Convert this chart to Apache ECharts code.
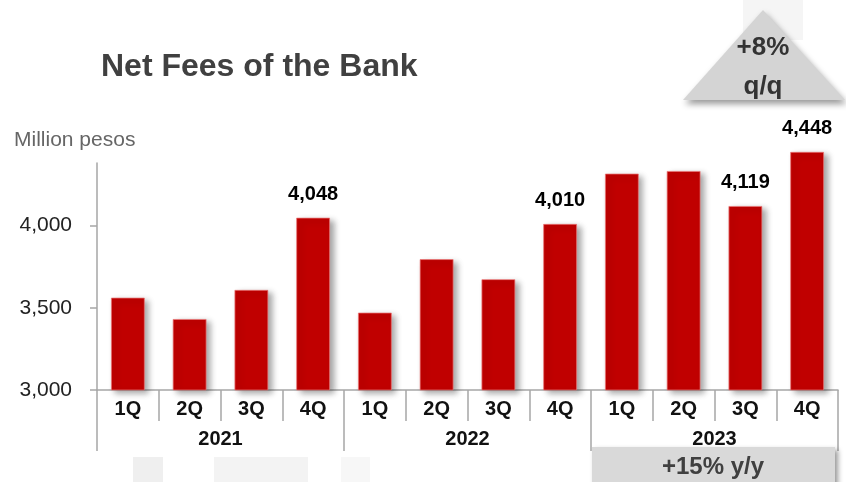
<!DOCTYPE html>
<html>
<head>
<meta charset="utf-8">
<script src="https://cdn.jsdelivr.net/npm/echarts@6/dist/echarts.min.js"></script>
<style>
  html, body { margin: 0; padding: 0; background: #ffffff; }
  #chart { width: 846px; height: 482px; }
</style>
</head>
<body>
<div id="chart"></div>
<script>
// Quarterly net fees, million pesos
const quarters = ['1Q', '2Q', '3Q', '4Q', '1Q', '2Q', '3Q', '4Q', '1Q', '2Q', '3Q', '4Q'];
const years = ['2021', '2022', '2023'];
const netFees = [3562, 3432, 3609, 4048, 3471, 3796, 3674, 4010, 4316, 4332, 4119, 4448];
// Bars that carry a value label
const labelled = [false, false, false, true, false, false, false, true, false, false, true, true];
const yTicks = [3000, 3500, 4000];

const FONT = '"Liberation Sans", Arial, sans-serif';
const chart = echarts.init(document.getElementById('chart'), null, { renderer: 'canvas' });

// Shared vertical scale: the drawn axis stops at 4,380 while the bar plot
// keeps room up to 4,500 so the tallest bar can rise above the axis end.
const BOTTOM = 92;
const AXIS_TOP = 163;
const AXIS_MIN = 3000, AXIS_MAX = 4380, PLOT_MAX = 4500;
const pxPerUnit = (482 - BOTTOM - AXIS_TOP) / (AXIS_MAX - AXIS_MIN);
const PLOT_TOP = 482 - BOTTOM - (PLOT_MAX - AXIS_MIN) * pxPerUnit;

const barData = netFees.map((v, i) => ({
  value: v,
  label: { show: labelled[i] }
}));

const axisGrey = { color: '#a6a6a6', width: 1.5 };

chart.setOption({
  animation: false,
  backgroundColor: '#ffffff',
  grid: [
    { left: 97, right: 8, top: PLOT_TOP, bottom: BOTTOM, containLabel: false },
    { left: 97, right: 8, top: AXIS_TOP, bottom: BOTTOM, containLabel: false }
  ],
  xAxis: [
    {
      gridIndex: 0,
      type: 'category',
      data: quarters,
      show: false
    },
    {
      gridIndex: 1,
      type: 'category',
      data: quarters,
      position: 'bottom',
      boundaryGap: true,
      axisLine: { show: true, lineStyle: axisGrey },
      axisTick: { show: true, interval: 0, length: 31, lineStyle: axisGrey },
      axisLabel: { interval: 0, margin: 9, color: '#111111', fontFamily: FONT, fontWeight: 'bold', fontSize: 20 }
    },
    {
      gridIndex: 1,
      type: 'category',
      data: years,
      position: 'bottom',
      boundaryGap: true,
      axisLine: { show: false },
      axisTick: { show: true, interval: 0, length: 61, lineStyle: axisGrey },
      axisLabel: { interval: 0, margin: 39, color: '#111111', fontFamily: FONT, fontWeight: 'bold', fontSize: 20 }
    }
  ],
  yAxis: [
    {
      gridIndex: 0,
      type: 'value',
      min: AXIS_MIN,
      max: PLOT_MAX,
      show: false,
      splitLine: { show: false }
    },
    {
      gridIndex: 1,
      type: 'value',
      min: AXIS_MIN,
      max: AXIS_MAX,
      interval: 500,
      splitLine: { show: false },
      axisLine: { show: true, lineStyle: axisGrey },
      axisTick: { show: true, length: 7, customValues: yTicks, lineStyle: axisGrey },
      axisLabel: {
        customValues: yTicks,
        margin: 25,
        color: '#222222',
        fontFamily: FONT,
        fontSize: 21,
        formatter: v => v.toLocaleString('en-US')
      }
    }
  ],
  series: [
    {
      type: 'bar',
      xAxisIndex: 0,
      yAxisIndex: 0,
      data: barData,
      barWidth: '55%',
      itemStyle: {
        color: '#c00000',
        borderColor: 'rgba(235,120,120,0.7)',
        borderWidth: 1,
        shadowColor: 'rgba(0,0,0,0.35)',
        shadowBlur: 6,
        shadowOffsetX: 4,
        shadowOffsetY: 3
      },
      label: {
        position: 'top',
        distance: 13,
        color: '#000000',
        fontFamily: FONT,
        fontWeight: 'bold',
        fontSize: 20,
        formatter: p => p.value.toLocaleString('en-US')
      }
    }
  ],
  graphic: [
    {
      type: 'text',
      left: 101, top: 51,
      style: { text: 'Net Fees of the Bank', fill: '#404040', font: 'bold 32px ' + FONT }
    },
    {
      type: 'text',
      left: 14, top: 130,
      style: { text: 'Million pesos', fill: '#666666', font: '21px ' + FONT }
    },
    // q/q badge
    {
      type: 'rect',
      shape: { x: 743, y: 0, width: 60, height: 40 },
      style: { fill: '#f5f5f5' },
      z: 1
    },
    {
      type: 'polygon',
      shape: { points: [[763, 10], [683, 100], [845, 100]] },
      style: {
        fill: '#d4d4d4',
        shadowColor: 'rgba(0,0,0,0.4)',
        shadowBlur: 6,
        shadowOffsetX: 2,
        shadowOffsetY: 4
      },
      z: 2
    },
    {
      type: 'text',
      x: 763, y: 48,
      style: { text: '+8%', fill: '#333333', font: 'bold 26px ' + FONT, textAlign: 'center', textVerticalAlign: 'middle' },
      z: 3
    },
    {
      type: 'text',
      x: 763, y: 87,
      style: { text: 'q/q', fill: '#333333', font: 'bold 26px ' + FONT, textAlign: 'center', textVerticalAlign: 'middle' },
      z: 3
    },
    // y/y badge
    {
      type: 'rect',
      shape: { x: 592, y: 447, width: 243, height: 42 },
      style: {
        fill: '#d9d9d9',
        shadowColor: 'rgba(0,0,0,0.4)',
        shadowBlur: 5,
        shadowOffsetX: 3,
        shadowOffsetY: 3
      },
      z: 2
    },
    {
      type: 'text',
      x: 713, y: 467,
      style: { text: '+15% y/y', fill: '#404040', font: 'bold 24px ' + FONT, textAlign: 'center', textVerticalAlign: 'middle' },
      z: 3
    },
    // faint footer blocks
    { type: 'rect', shape: { x: 133, y: 457, width: 30, height: 25 }, style: { fill: '#efefef' } },
    { type: 'rect', shape: { x: 214, y: 457, width: 94, height: 25 }, style: { fill: '#f3f3f3' } },
    { type: 'rect', shape: { x: 341, y: 457, width: 29, height: 25 }, style: { fill: '#f7f7f7' } }
  ]
});
</script>
</body>
</html>
